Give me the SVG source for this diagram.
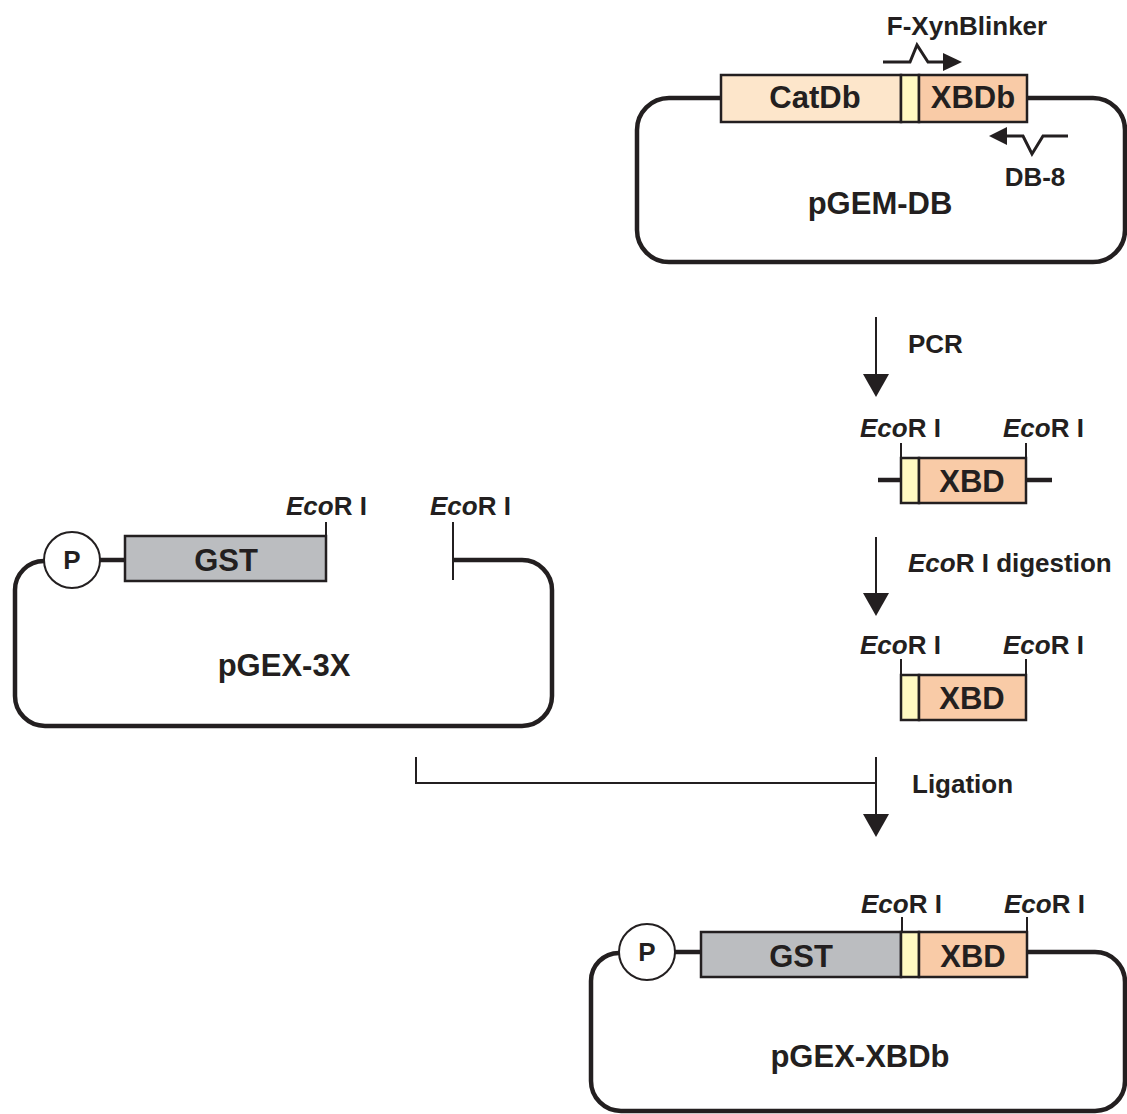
<svg xmlns="http://www.w3.org/2000/svg" width="1127" height="1114" viewBox="0 0 1127 1114">
<style>
text{font-family:"Liberation Sans",Arial,sans-serif;font-weight:bold;fill:#231F20}
.big{font-size:31px}
.sm{font-size:26px}
.mid{text-anchor:middle}
.bb{fill:none;stroke:#231F20;stroke-width:4.5;stroke-linejoin:round}
.thin{fill:none;stroke:#231F20;stroke-width:2}
.pr{fill:none;stroke:#231F20;stroke-width:3;stroke-linejoin:miter}
.box{stroke:#231F20;stroke-width:2.5}
.cat{fill:#FDE6CB}
.xbd{fill:#F9CBA7}
.lnk{fill:#FFF9C2}
.gst{fill:#BBBDC0}
.prom{fill:#fff;stroke:#231F20;stroke-width:2}
.ah{fill:#231F20}
</style>
<defs>
<marker id="ah" markerWidth="26" markerHeight="24" refX="0" refY="12" orient="auto" markerUnits="userSpaceOnUse">
<path d="M0,0 L23,12 L0,24 Z" fill="#231F20"/>
</marker>
</defs>

<g id="pGEM-DB">
<path class="bb" d="M721,98 H669 A32,32 0 0 0 637,130 V230 A32,32 0 0 0 669,262 H1093 A32,32 0 0 0 1125,230 V130 A32,32 0 0 0 1093,98 H1027"/>
<rect class="box cat" x="721" y="75" width="180" height="47"/>
<rect class="box lnk" x="901" y="75" width="18" height="47"/>
<rect class="box xbd" x="919" y="75" width="108" height="47"/>
<text class="big mid" x="815" y="108">CatDb</text>
<text class="big mid" x="973" y="108">XBDb</text>
<text class="big mid" x="880" y="214">pGEM-DB</text>
</g>

<g id="primer-F">
<path class="pr" d="M883,62 H910 L917,45 L928,62 H945"/>
<polygon class="ah" points="943,53 962,62 943,71"/>
<text class="sm mid" x="967" y="35">F-XynBlinker</text>
</g>

<g id="primer-DB8">
<path class="pr" d="M1004,136 H1023 L1032,154 L1043,136 H1068"/>
<polygon class="ah" points="989,136 1007,127 1007,145"/>
<text class="sm mid" x="1035" y="186">DB-8</text>
</g>

<g id="fragment-PCR">
<line class="bb" x1="878" y1="480" x2="901" y2="480"/>
<line class="bb" x1="1026" y1="480" x2="1052" y2="480"/>
<line class="thin" x1="901" y1="443" x2="901" y2="458"/>
<line class="thin" x1="1026" y1="443" x2="1026" y2="458"/>
<rect class="box lnk" x="901" y="458" width="18" height="45"/>
<rect class="box xbd" x="919" y="458" width="107" height="45"/>
<text class="big mid" x="972" y="492">XBD</text>
<text class="sm" x="860" y="437"><tspan font-style="italic">Eco</tspan>R I</text>
<text class="sm" x="1003" y="437"><tspan font-style="italic">Eco</tspan>R I</text>
</g>

<g id="fragment-digested">
<line class="thin" x1="901" y1="659" x2="901" y2="675"/>
<line class="thin" x1="1026" y1="659" x2="1026" y2="675"/>
<rect class="box lnk" x="901" y="675" width="18" height="45"/>
<rect class="box xbd" x="919" y="675" width="107" height="45"/>
<text class="big mid" x="972" y="709">XBD</text>
<text class="sm" x="860" y="654"><tspan font-style="italic">Eco</tspan>R I</text>
<text class="sm" x="1003" y="654"><tspan font-style="italic">Eco</tspan>R I</text>
</g>

<g id="pGEX-3X">
<path class="bb" d="M44,561 A29,29 0 0 0 15,590 V696 A30,30 0 0 0 45,726 H522 A30,30 0 0 0 552,696 V590 A30,30 0 0 0 522,560 H453"/>
<line class="bb" x1="100" y1="560" x2="125" y2="560"/>
<circle class="prom" cx="72" cy="560" r="28"/>
<text class="sm mid" x="72" y="569">P</text>
<rect class="box gst" x="125" y="536" width="201" height="45"/>
<text class="big mid" x="226" y="571">GST</text>
<line class="thin" x1="326" y1="522" x2="326" y2="536"/>
<line class="thin" x1="453" y1="522" x2="453" y2="580"/>
<text class="sm" x="286" y="515"><tspan font-style="italic">Eco</tspan>R I</text>
<text class="sm" x="430" y="515"><tspan font-style="italic">Eco</tspan>R I</text>
<text class="big mid" x="284" y="676">pGEX-3X</text>
</g>

<g id="pGEX-XBDb">
<path class="bb" d="M619,953 A28,28 0 0 0 591,981 V1081 A30,30 0 0 0 621,1111 H1095 A30,30 0 0 0 1125,1081 V982 A30,30 0 0 0 1095,952 H1027"/>
<line class="bb" x1="675" y1="952" x2="701" y2="952"/>
<circle class="prom" cx="647" cy="952" r="28"/>
<text class="sm mid" x="647" y="961">P</text>
<rect class="box gst" x="701" y="932" width="200" height="45"/>
<rect class="box lnk" x="901" y="932" width="18" height="45"/>
<rect class="box xbd" x="919" y="932" width="108" height="45"/>
<text class="big mid" x="801" y="967">GST</text>
<text class="big mid" x="973" y="967">XBD</text>
<line class="thin" x1="902" y1="917" x2="902" y2="932"/>
<line class="thin" x1="1027" y1="917" x2="1027" y2="932"/>
<text class="sm" x="861" y="913"><tspan font-style="italic">Eco</tspan>R I</text>
<text class="sm" x="1004" y="913"><tspan font-style="italic">Eco</tspan>R I</text>
<text class="big mid" x="860" y="1067">pGEX-XBDb</text>
</g>

<g id="connectors">
<line class="thin" x1="876" y1="317" x2="876" y2="375"/>
<polygon class="ah" points="863,374 889,374 876,397"/>
<text class="sm" x="908" y="353">PCR</text>
<line class="thin" x1="876" y1="537" x2="876" y2="594"/>
<polygon class="ah" points="863,593 889,593 876,616"/>
<text class="sm" x="908" y="572"><tspan font-style="italic">Eco</tspan>R I digestion</text>
<polyline class="thin" points="416,757 416,783 876,783"/>
<line class="thin" x1="876" y1="757" x2="876" y2="815"/>
<polygon class="ah" points="863,814 889,814 876,837"/>
<text class="sm" x="912" y="793">Ligation</text>
</g>
</svg>
